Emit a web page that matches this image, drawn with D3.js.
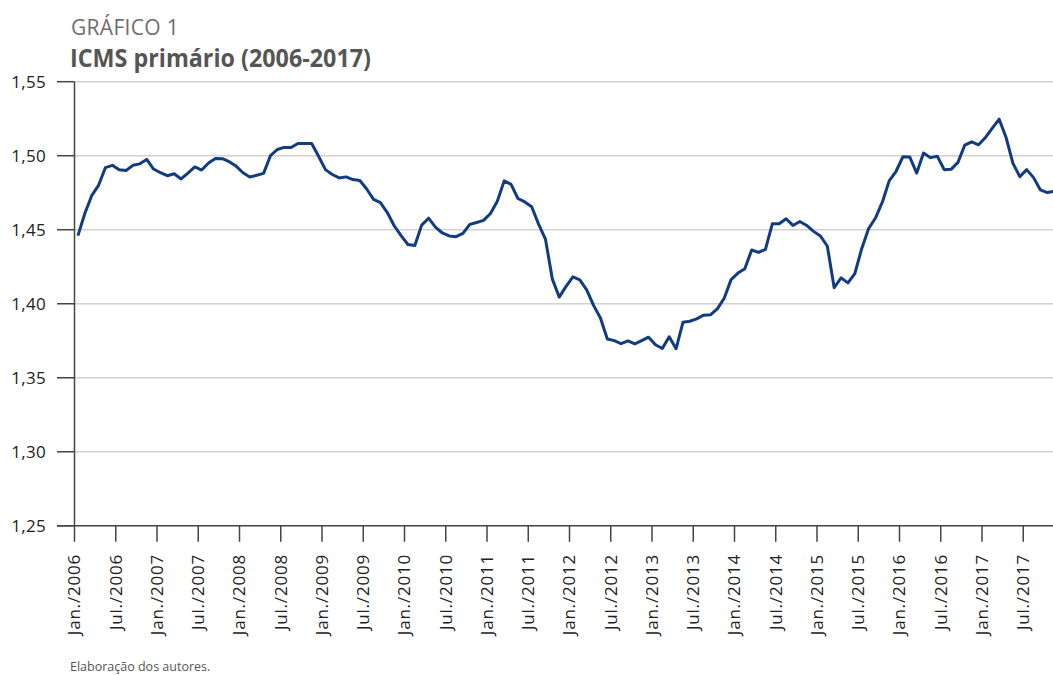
<!DOCTYPE html>
<html>
<head>
<meta charset="utf-8">
<script src="https://cdn.jsdelivr.net/npm/d3@7"></script>
<style>
  body { margin: 0; background: #fff; }
  text { font-family: "Open Sans", sans-serif; }
</style>
</head>
<body>
<div id="chart"></div>
<script>
'use strict';
// ICMS primário, mensal, jan/2006 em diante
const icms = [
  1.446, 1.461, 1.473, 1.480, 1.492, 1.4935, 1.4905, 1.490, 1.4935, 1.4945, 1.4975, 1.491,
  1.4885, 1.4865, 1.4878, 1.4843, 1.4883, 1.4924, 1.4903, 1.4951, 1.4982, 1.498, 1.496, 1.493,
  1.4885, 1.4856, 1.4868, 1.4881, 1.500, 1.5042, 1.5056, 1.5056, 1.5083, 1.5083, 1.5083, 1.4996,
  1.4906, 1.4873, 1.485, 1.4857, 1.4839, 1.4833, 1.4775, 1.4705, 1.4683, 1.4616, 1.4527, 1.446,
  1.440, 1.4393, 1.4531, 1.4578, 1.4518, 1.4478, 1.4458, 1.4453, 1.4475, 1.4536, 1.4549, 1.4563,
  1.461, 1.4693, 1.483, 1.4807, 1.4711, 1.4688, 1.4655, 1.4538, 1.4437, 1.4168, 1.4045, 1.4117,
  1.4182, 1.4161, 1.4094, 1.3989, 1.3904, 1.3762, 1.3751, 1.3731, 1.3749, 1.3729, 1.3751, 1.3774,
  1.3723, 1.3698, 1.3777, 1.3696, 1.3875, 1.3882, 1.3898, 1.3923, 1.3925, 1.3965, 1.4037, 1.4163,
  1.4207, 1.4237, 1.4363, 1.4347, 1.4368, 1.454, 1.454, 1.4574, 1.4529, 1.4556, 1.4529, 1.4489,
  1.4457, 1.439, 1.4108, 1.4175, 1.4141, 1.4204, 1.4372, 1.4507, 1.4579, 1.4686, 1.483, 1.4895,
  1.4993, 1.4991, 1.4883, 1.5018, 1.4987, 1.4996, 1.4906, 1.4908, 1.4955, 1.5072, 1.5094, 1.5074,
  1.5123, 1.5186, 1.5247, 1.5123, 1.4948, 1.4859, 1.4906, 1.4852, 1.4769, 1.4751, 1.476
];
const yTicks = [1.25, 1.30, 1.35, 1.40, 1.45, 1.50, 1.55];
const xTickLabels = [
  "Jan./2006", "Jul./2006", "Jan./2007", "Jul./2007", "Jan./2008", "Jul./2008",
  "Jan./2009", "Jul./2009", "Jan./2010", "Jul./2010", "Jan./2011", "Jul./2011",
  "Jan./2012", "Jul./2012", "Jan./2013", "Jul./2013", "Jan./2014", "Jul./2014",
  "Jan./2015", "Jul./2015", "Jan./2016", "Jul./2016", "Jan./2017", "Jul./2017"
];
const nMonths = 144; // jan/2006 - dez/2017

let width = 1053, height = 676;
let plotLeft = 74.5, plotTop = 81.7, plotBottom = 525.8, monthW = 6.875;

let svg = d3.select("#chart").append("svg")
  .attr("width", width)
  .attr("height", height);

// scales: categoria i ocupa [i, i+1], ponto no centro
let x = d3.scaleLinear().domain([0, nMonths]).range([plotLeft, plotLeft + nMonths * monthW]);
let y = d3.scaleLinear().domain([1.25, 1.55]).range([plotBottom, plotTop]);

// titles
svg.append("text")
  .attr("x", 71).attr("y", 35)
  .attr("font-size", "21px")
  .attr("fill", "#6e6e6e")
  .attr("letter-spacing", "0.3px")
  .text("GRÁFICO 1");
svg.append("text")
  .attr("x", 70).attr("y", 67)
  .attr("font-size", "25px")
  .attr("font-weight", "bold")
  .attr("fill", "#555")
  .attr("textLength", 301)
  .attr("lengthAdjust", "spacingAndGlyphs")
  .text("ICMS primário (2006-2017)");

// gridlines
svg.append("g").selectAll("line")
  .data(yTicks.slice(1))
  .enter().append("line")
  .attr("x1", plotLeft).attr("x2", width)
  .attr("y1", d => y(d)).attr("y2", d => y(d))
  .attr("stroke", "#d2d2d2")
  .attr("stroke-width", 1.5);

// y axis
let yAxis = svg.append("g");
yAxis.append("line")
  .attr("x1", plotLeft).attr("x2", plotLeft)
  .attr("y1", plotTop).attr("y2", plotBottom)
  .attr("stroke", "#444").attr("stroke-width", 1.5);
yAxis.selectAll(".ytick")
  .data(yTicks)
  .enter().append("line")
  .attr("class", "ytick")
  .attr("x1", 57).attr("x2", plotLeft)
  .attr("y1", d => y(d)).attr("y2", d => y(d))
  .attr("stroke", "#444").attr("stroke-width", 1.5);
yAxis.selectAll("text")
  .data(yTicks)
  .enter().append("text")
  .attr("x", 46)
  .attr("y", d => y(d))
  .attr("dy", "0.35em")
  .attr("text-anchor", "end")
  .attr("font-size", "17px")
  .attr("letter-spacing", "0.3px")
  .attr("fill", "#222")
  .text(d => d3.format(".2f")(d).replace(".", ","));

// x axis
let xAxis = svg.append("g");
xAxis.append("line")
  .attr("x1", 57).attr("x2", width)
  .attr("y1", plotBottom).attr("y2", plotBottom)
  .attr("stroke", "#444").attr("stroke-width", 1.5);
xAxis.selectAll(".xtick")
  .data(xTickLabels)
  .enter().append("line")
  .attr("class", "xtick")
  .attr("x1", (d, i) => x(i * 6)).attr("x2", (d, i) => x(i * 6))
  .attr("y1", plotBottom).attr("y2", plotBottom + 16)
  .attr("stroke", "#444").attr("stroke-width", 1.5);
xAxis.selectAll("text")
  .data(xTickLabels)
  .enter().append("text")
  .attr("transform", "rotate(-90)")
  .attr("x", -554)
  .attr("y", (d, i) => x(i * 6))
  .attr("dy", "0.35em")
  .attr("text-anchor", "end")
  .attr("font-size", "17px")
  .attr("letter-spacing", "0.8px")
  .attr("fill", "#222")
  .text(d => d);

// the line
let line = d3.line()
  .x((d, i) => x(i + 0.5))
  .y(d => y(d));
svg.append("path")
  .datum(icms)
  .attr("d", line)
  .attr("fill", "none")
  .attr("stroke", "#123c80")
  .attr("stroke-width", 3)
  .attr("stroke-linejoin", "round");

// source
svg.append("text")
  .attr("x", 70).attr("y", 671)
  .attr("font-size", "12.5px")
  .attr("fill", "#555")
  .text("Elaboração dos autores.");
</script>
</body>
</html>
